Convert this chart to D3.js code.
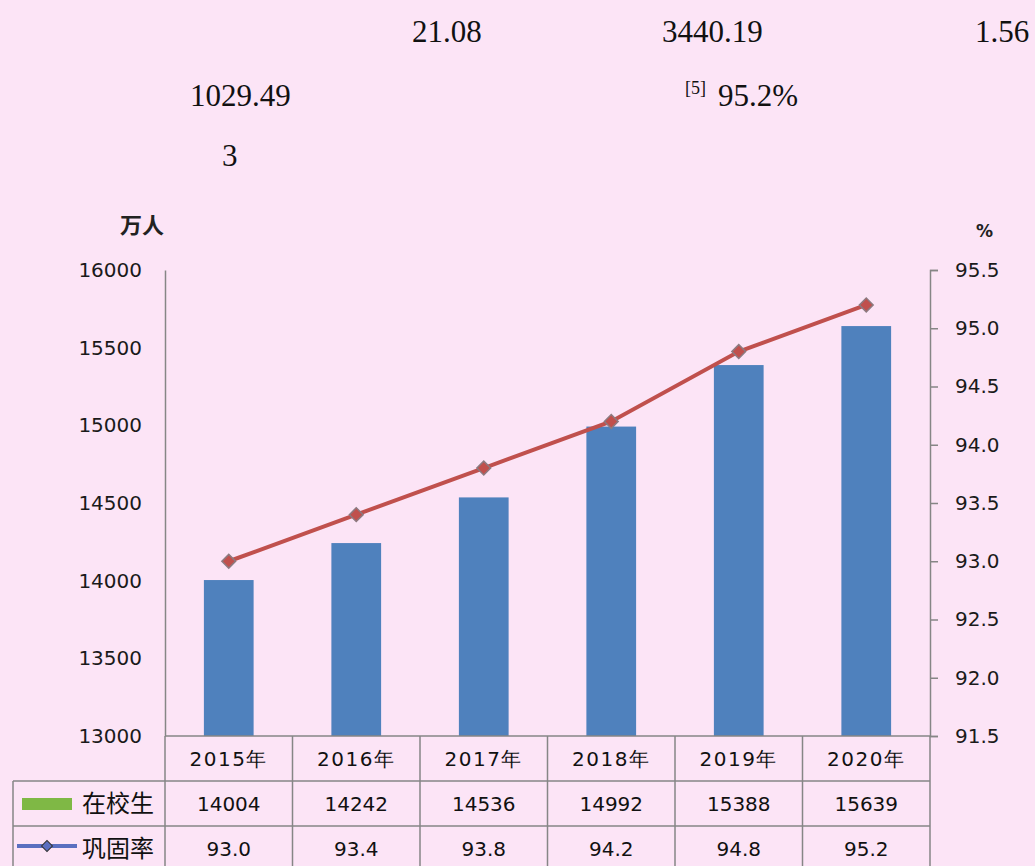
<!DOCTYPE html>
<html>
<head>
<meta charset="utf-8">
<script src="https://cdn.jsdelivr.net/npm/d3@7"></script>
<style>
  html, body { margin: 0; padding: 0; background: #fce4f6; }
  svg { display: block; }
</style>
</head>
<body>
<svg id="chart" width="1035" height="866"></svg>
<script>
// Chart data
const years = ['2015年', '2016年', '2017年', '2018年', '2019年', '2020年'];
const students = [14004, 14242, 14536, 14992, 15388, 15639];
const rates = [93.0, 93.4, 93.8, 94.2, 94.8, 95.2];
const leftTicks = [13000, 13500, 14000, 14500, 15000, 15500, 16000];
const rightTicks = [91.5, 92.0, 92.5, 93.0, 93.5, 94.0, 94.5, 95.0, 95.5];

// Loose numbers above the chart
const topNotes = [
  { text: '21.08', x: 412, y: 42 },
  { text: '3440.19', x: 662, y: 42 },
  { text: '1.56', x: 975, y: 42 },
  { text: '1029.49', x: 190, y: 106 },
  { text: '95.2%', x: 718, y: 106 },
  { text: '3', x: 222, y: 166 }
];

const svg = d3.select('#chart');
const sans = '"DejaVu Sans", Verdana, sans-serif';
const grey = '#868686';

// Top texts
svg.selectAll('.note')
  .data(topNotes)
  .enter()
  .append('text')
  .attr('x', (d) => d.x)
  .attr('y', (d) => d.y)
  .style('font-family', '"Liberation Serif", "Times New Roman", serif')
  .style('font-size', '31px')
  .style('fill', '#111')
  .text((d) => d.text);

svg.append('text')
  .attr('x', 685)
  .attr('y', 94)
  .style('font-family', '"Liberation Serif", serif')
  .style('font-size', '18px')
  .style('fill', '#111')
  .text('[5]');

// Scales
const plotLeft = 165, plotRight = 930, plotTop = 270, plotBottom = 736;

const x = d3.scaleBand().domain(years).range([plotLeft, plotRight]).padding(0);
const yL = d3.scaleLinear().domain([13000, 16000]).range([plotBottom, plotTop]);
const yR = d3.scaleLinear().domain([91.5, 95.5]).range([plotBottom, plotTop]);

const barW = x.bandwidth() * 0.39;

// Bars
svg.selectAll('.bar')
  .data(students)
  .enter()
  .append('rect')
  .attr('x', (d, i) => x(years[i]) + (x.bandwidth() - barW) / 2)
  .attr('y', (d) => yL(d))
  .attr('width', barW)
  .attr('height', (d) => yL(13000) - yL(d))
  .style('fill', '#4f81bd');

// Line
const line = d3.line()
  .x((d, i) => x(years[i]) + x.bandwidth() / 2)
  .y((d) => yR(d));

svg.append('path')
  .datum(rates)
  .attr('d', line)
  .style('fill', 'none')
  .style('stroke', '#c0504d')
  .style('stroke-width', 4);

// square turned 45 degrees = Excel style diamond
const diamond = d3.symbol().type(d3.symbolSquare).size(95);

svg.selectAll('.mark')
  .data(rates)
  .enter()
  .append('path')
  .attr('d', diamond)
  .attr('transform', (d, i) => `translate(${x(years[i]) + x.bandwidth() / 2}, ${yR(d)}) rotate(45)`)
  .style('fill', '#c0504d')
  .style('stroke', '#8c7a80')
  .style('stroke-width', 1.5);

// Left axis
const axL = svg.append('g')
  .attr('transform', `translate(${plotLeft}, 0)`)
  .call(d3.axisLeft(yL).tickValues(leftTicks).tickSize(0).tickPadding(23).tickFormat(d3.format('d')));

// Right axis
const axR = svg.append('g')
  .attr('transform', `translate(${plotRight}, 0)`)
  .call(d3.axisRight(yR).tickValues(rightTicks).tickSize(8).tickPadding(17).tickFormat(d3.format('.1f')));

[axL, axR].forEach((g) => {
  g.select('.domain').style('stroke', grey).style('stroke-width', 1.5);
  g.selectAll('.tick line').style('stroke', grey).style('stroke-width', 1.5);
  g.selectAll('.tick text')
    .style('font-family', sans)
    .style('font-size', '20px')
    .style('fill', '#1a1a1a');
});

// Axis units
svg.append('text')
  .attr('x', 120)
  .attr('y', 233)
  .style('font-family', '"Noto Sans CJK SC", sans-serif')
  .style('font-size', '22px')
  .style('font-weight', 'bold')
  .style('fill', '#222')
  .text('万人');

svg.append('text')
  .attr('x', 976)
  .attr('y', 237)
  .style('font-family', sans)
  .style('font-size', '17px')
  .style('font-weight', 'bold')
  .style('fill', '#222')
  .text('%');

// Data table
const rowH = 45;
const tableLeft = 13;
const rows = [
  { y: plotBottom, label: null, values: years },
  { y: plotBottom + rowH, label: '在校生', values: students.map(String) },
  { y: plotBottom + rowH * 2, label: '巩固率', values: rates.map(d3.format('.1f')) }
];

const table = svg.append('g').style('stroke', grey).style('stroke-width', 1.5);

table.append('line')
  .attr('x1', plotLeft).attr('x2', plotRight)
  .attr('y1', plotBottom).attr('y2', plotBottom);

[1, 2].forEach((r) => {
  table.append('line')
    .attr('x1', tableLeft).attr('x2', plotRight)
    .attr('y1', plotBottom + rowH * r).attr('y2', plotBottom + rowH * r);
});

years.forEach((d) => {
  table.append('line')
    .attr('x1', x(d)).attr('x2', x(d))
    .attr('y1', plotBottom).attr('y2', 866);
});

table.append('line')
  .attr('x1', plotRight).attr('x2', plotRight)
  .attr('y1', plotBottom).attr('y2', 866);

table.append('line')
  .attr('x1', tableLeft).attr('x2', tableLeft)
  .attr('y1', plotBottom + rowH).attr('y2', 866);

rows.forEach((row) => {
  svg.selectAll(null)
    .data(row.values)
    .enter()
    .append('text')
    .attr('x', (d, i) => x(years[i]) + x.bandwidth() / 2)
    .attr('y', row.y + rowH / 2 + 7)
    .style('text-anchor', 'middle')
    .style('font-family', sans)
    .style('font-size', '20px')
    .style('letter-spacing', row.label ? '0px' : '1.5px')
    .style('fill', '#111')
    .text((d) => d);

  if (row.label) {
    svg.append('text')
      .attr('x', 82)
      .attr('y', row.y + rowH / 2 + 8)
      .style('font-family', '"Noto Sans CJK SC", sans-serif')
      .style('font-size', '24px')
      .style('fill', '#111')
      .text(row.label);
  }
});

// Legend keys in the table
svg.append('rect')
  .attr('x', 22)
  .attr('y', plotBottom + rowH + 17)
  .attr('width', 50)
  .attr('height', 12)
  .style('fill', '#7fb845');

const keyY = plotBottom + rowH * 2 + 20;
svg.append('line')
  .attr('x1', 17).attr('x2', 77)
  .attr('y1', keyY).attr('y2', keyY)
  .style('stroke', '#5a6fc0')
  .style('stroke-width', 4);

svg.append('path')
  .attr('d', d3.symbol().type(d3.symbolSquare).size(60))
  .attr('transform', `translate(47, ${keyY}) rotate(45)`)
  .style('fill', '#5a6fc0')
  .style('stroke', '#333')
  .style('stroke-width', 1);
</script>
</body>
</html>
